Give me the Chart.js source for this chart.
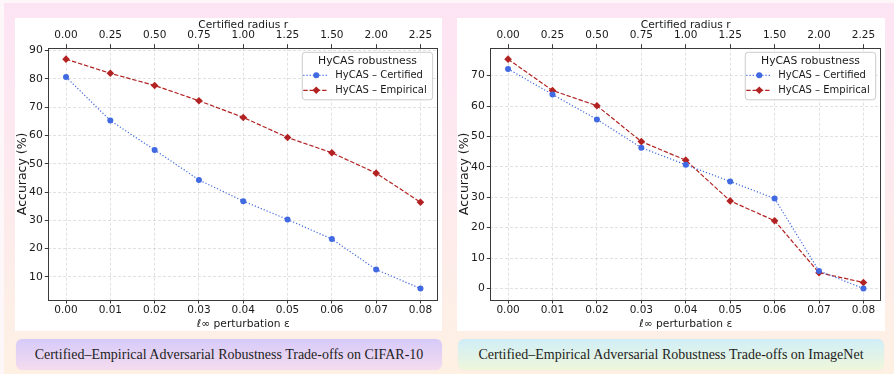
<!DOCTYPE html>
<html><head><meta charset="utf-8">
<script src="https://cdn.jsdelivr.net/npm/chart.js@4.4.1/dist/chart.umd.min.js"></script>
<style>
html,body{margin:0;padding:0;background:#fdf7f9;width:894px;height:374px;overflow:hidden;}
#bg{position:absolute;left:4px;top:3px;width:890px;height:371px;background:linear-gradient(180deg,#fde4f4 0%,#fdeaee 50%,#fef1e3 100%);}
.card{position:absolute;background:#fff;}
.card canvas{display:block;}
.cap{position:absolute;border-radius:6px;font-family:"Liberation Serif","Times New Roman",serif;font-size:14px;color:#1e1e1e;display:flex;align-items:center;justify-content:center;box-shadow:0 0 1px rgba(0,0,0,0.08);}
</style></head>
<body>
<div id="bg"></div>
<div class="card" style="left:15px;top:18px;width:427px;height:313px"><canvas id="c1" width="427" height="313"></canvas></div>
<div class="card" style="left:457px;top:18px;width:428px;height:313px"><canvas id="c2" width="428" height="313"></canvas></div>
<div class="cap" style="left:16px;top:339px;width:426px;height:31px;background:linear-gradient(180deg,#d6caf9,#f5dcef)">Certified–Empirical Adversarial Robustness Trade-offs on CIFAR-10</div>
<div class="cap" style="left:458px;top:339px;width:426px;height:31px;background:linear-gradient(180deg,#d0eef8,#eff7da)">Certified–Empirical Adversarial Robustness Trade-offs on ImageNet</div>
<script>
// ---- data ----
const epsilon = [0.00, 0.01, 0.02, 0.03, 0.04, 0.05, 0.06, 0.07, 0.08];
const radiusLabels = ['0.00', '0.25', '0.50', '0.75', '1.00', '1.25', '1.50', '2.00', '2.25'];
const cifarCertified = [80.7, 65.3, 54.9, 44.3, 36.8, 30.3, 23.4, 12.6, 5.9];
const cifarEmpirical = [87.0, 82.0, 77.7, 72.3, 66.4, 59.3, 53.9, 46.7, 36.4];
const imagenetCertified = [72.2, 63.8, 55.6, 46.3, 40.7, 35.2, 29.6, 5.8, 0.0];
const imagenetEmpirical = [75.4, 65.1, 60.1, 48.3, 42.2, 28.8, 22.3, 5.2, 2.0];
const cifarYTicks = [10, 20, 30, 40, 50, 60, 70, 80, 90];
const imagenetYTicks = [0, 10, 20, 30, 40, 50, 60, 70];
const seriesNames = ['HyCAS – Certified', 'HyCAS – Empirical'];
const legendTitle = 'HyCAS robustness';
const xTitle = 'ℓ∞ perturbation ε';
const topTitle = 'Certified radius r';
const yTitle = 'Accuracy (%)';

const BLUE = '#4169e1', RED = '#b22222';
const GRID = 'rgba(170,170,170,0.45)';
const AXIS = '#3a3a3a';
const TEXT = '#1a1a1a';
Chart.defaults.font.family = '"DejaVu Sans", sans-serif';
Chart.defaults.color = TEXT;

const framePlugin = {
  id: 'frame',
  afterDatasetsDraw(chart) {
    const { ctx, chartArea: a } = chart;
    ctx.save();
    ctx.strokeStyle = AXIS; ctx.lineWidth = 1; ctx.setLineDash([]);
    ctx.strokeRect(Math.round(a.left) + 0.5, Math.round(a.top) + 0.5, Math.round(a.right - a.left) - 1, Math.round(a.bottom - a.top));
    ctx.restore();
  }
};

function marker(ctx, style, x, y, r, color) {
  ctx.fillStyle = color; ctx.beginPath();
  if (style === 'circle') { ctx.arc(x, y, r, 0, Math.PI * 2); }
  else { ctx.moveTo(x - r, y); ctx.lineTo(x, y - r); ctx.lineTo(x + r, y); ctx.lineTo(x, y + r); ctx.closePath(); }
  ctx.fill();
}

const legendPlugin = {
  id: 'mplLegend',
  afterDraw(chart) {
    const { ctx, chartArea: a } = chart;
    const ds = chart.data.datasets;
    ctx.save();
    ctx.font = '10px "DejaVu Sans"';
    const tw = Math.max(...ds.map(d => ctx.measureText(d.label).width));
    const w = 33 + tw + 6, h = 47.5;
    const x = a.right - 5.5 - w, y = a.top + 4.6;
    ctx.beginPath();
    ctx.roundRect(x, y, w, h, 3);
    ctx.fillStyle = 'rgba(255,255,255,0.85)'; ctx.fill();
    ctx.strokeStyle = '#cccccc'; ctx.lineWidth = 1; ctx.stroke();
    ctx.fillStyle = TEXT; ctx.textBaseline = 'middle'; ctx.textAlign = 'center';
    ctx.font = '10.8px "DejaVu Sans"';
    ctx.fillText(legendTitle, x + w / 2, y + 9);
    ctx.font = '10px "DejaVu Sans"';
    ctx.textAlign = 'left';
    ds.forEach((d, i) => {
      const yy = y + 23 + i * 15;
      ctx.strokeStyle = d.borderColor; ctx.lineWidth = 1.2; ctx.setLineDash(d.borderDash);
      ctx.beginPath(); ctx.moveTo(x + 1, yy); ctx.lineTo(x + 26, yy); ctx.stroke();
      ctx.setLineDash([]);
      marker(ctx, d.pointStyle, x + 14, yy, d.pointStyle === 'circle' ? 3 : 3.8, d.borderColor);
      ctx.fillStyle = TEXT;
      ctx.fillText(d.label, x + 33, yy + 0.5);
    });
    ctx.restore();
  }
};

function makeChart(id, cert, emp, yTicks, rightPad) {
  const all = cert.concat(emp);
  const lo = Math.min(...all), hi = Math.max(...all), m = (hi - lo) * 0.05;
  const xlo = epsilon[0], xhi = epsilon[epsilon.length - 1], xm = (xhi - xlo) * 0.05;
  const tickFont = { size: 10.5 };
  const titleFont = { size: 10.7 };
  const common = {
    type: 'linear', min: xlo - xm, max: xhi + xm,
    afterBuildTicks: s => { s.ticks = epsilon.map(v => ({ value: v })); },
    border: { display: false, dash: [3, 2] },
  };
  new Chart(document.getElementById(id), {
    type: 'line',
    data: {
      datasets: [
        { label: seriesNames[0], data: epsilon.map((e, i) => ({ x: e, y: cert[i] })),
          borderColor: BLUE, backgroundColor: BLUE, borderWidth: 1.2, borderDash: [1.2, 2],
          pointStyle: 'circle', pointRadius: 3, pointBorderWidth: 0, pointHoverRadius: 3, tension: 0 },
        { label: seriesNames[1], data: epsilon.map((e, i) => ({ x: e, y: emp[i] })),
          borderColor: RED, backgroundColor: RED, borderWidth: 1.2, borderDash: [4.4, 1.9],
          pointStyle: 'rectRot', pointRadius: 3.8, pointBorderWidth: 0, pointHoverRadius: 3.8, tension: 0 }
      ]
    },
    options: {
      responsive: false, animation: false, devicePixelRatio: 1,
      layout: { padding: { left: 0, right: rightPad, top: 0, bottom: 0 } },
      plugins: { legend: { display: false }, tooltip: { enabled: false } },
      scales: {
        x: Object.assign({}, common, {
          position: 'bottom',
          ticks: { callback: v => v.toFixed(2), font: tickFont, padding: 0, maxRotation: 0, autoSkip: false, color: TEXT },
          grid: { color: GRID, lineWidth: 0.8, tickColor: AXIS, tickLength: 3.5, tickWidth: 1 },
          title: { display: true, text: xTitle, font: titleFont, padding: 0, color: TEXT },
          afterFit: s => { s.height = 31; }
        }),
        x2: Object.assign({}, common, {
          position: 'top',
          ticks: { callback: (v, i) => radiusLabels[i], font: tickFont, padding: 2.5, maxRotation: 0, autoSkip: false, color: TEXT },
          grid: { drawOnChartArea: false, tickColor: AXIS, tickLength: 3.5, tickWidth: 1 },
          title: { display: true, text: topTitle, font: titleFont, padding: { top: 1 }, color: TEXT },
          afterFit: s => { s.height = 29.7; }
        }),
        y: {
          type: 'linear', position: 'left', min: lo - m, max: hi + m,
          afterBuildTicks: s => { s.ticks = yTicks.map(v => ({ value: v })); },
          ticks: { font: { size: 10.8 }, padding: 2, color: TEXT },
          grid: { color: GRID, lineWidth: 0.8, tickColor: AXIS, tickLength: 3.5, tickWidth: 1 },
          border: { display: false, dash: [3, 2] },
          title: { display: true, text: yTitle, font: { size: 12.5 }, padding: 0, color: TEXT },
          afterFit: s => { s.width = 33.3; }
        }
      }
    },
    plugins: [framePlugin, legendPlugin]
  });
}

makeChart('c1', cifarCertified, cifarEmpirical, cifarYTicks, 1.3);
makeChart('c2', imagenetCertified, imagenetEmpirical, imagenetYTicks, 1.3);
</script>
</body></html>
